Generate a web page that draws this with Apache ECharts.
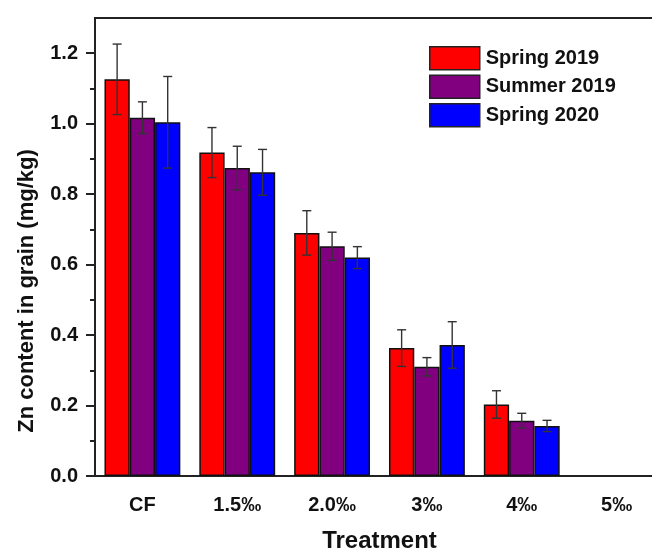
<!DOCTYPE html>
<html>
<head>
<meta charset="utf-8">
<script src="https://cdn.jsdelivr.net/npm/echarts@6/dist/echarts.min.js"></script>
<style>
  html, body { margin: 0; padding: 0; background: #fff; }
  #chart { width: 652px; height: 552px; }
</style>
</head>
<body>
<div id="chart"></div>
<script>
// 数据
var categories = ['CF', '1.5‰', '2.0‰', '3‰', '4‰', '5‰'];
var seriesNames = ['Spring 2019', 'Summer 2019', 'Spring 2020'];
var spring2019 = [1.126, 0.918, 0.690, 0.363, 0.203, null];
var summer2019 = [1.017, 0.874, 0.652, 0.310, 0.157, null];
var spring2020 = [1.004, 0.862, 0.620, 0.372, 0.142, null];
var spring2019Err = [0.100, 0.071, 0.063, 0.052, 0.039, null];
var summer2019Err = [0.045, 0.062, 0.040, 0.026, 0.021, null];
var spring2020Err = [0.130, 0.065, 0.031, 0.066, 0.016, null];
var yTicks = [0, 0.2, 0.4, 0.6, 0.8, 1.0, 1.2];
var yMinorTicks = [0.1, 0.3, 0.5, 0.7, 0.9, 1.1];

var colors = ['#ff0000', '#800080', '#0000ff'];
var font = 'Liberation Sans, Arial, sans-serif';
var allValues = [spring2019, summer2019, spring2020];
var allErrs = [spring2019Err, summer2019Err, spring2020Err];

var chart = echarts.init(document.getElementById('chart'));

// 误差线
function errData(i) {
  var out = [];
  allValues[i].forEach(function (v, k) {
    if (v != null) out.push([k, v, allErrs[i][k]]);
  });
  return out;
}
function errRender(i) {
  return function (params, api) {
    var catW = api.size([1, 0])[0];
    var barW = catW * 0.8 / 3;
    var off = (i - 1) * barW;
    var v = api.value(1), e = api.value(2);
    var top = api.coord([api.value(0), v + e]);
    var bot = api.coord([api.value(0), v - e]);
    var x = top[0] + off;
    var cap = 4.5;
    var style = { stroke: '#333', lineWidth: 1.4 };
    return {
      type: 'group',
      children: [
        { type: 'line', shape: { x1: x, y1: top[1], x2: x, y2: bot[1] }, style: style },
        { type: 'line', shape: { x1: x - cap, y1: top[1], x2: x + cap, y2: top[1] }, style: style },
        { type: 'line', shape: { x1: x - cap, y1: bot[1], x2: x + cap, y2: bot[1] }, style: style }
      ]
    };
  };
}

var series = [];
seriesNames.forEach(function (name, i) {
  series.push({
    name: name,
    type: 'bar',
    data: allValues[i],
    barGap: '0%',
    barCategoryGap: '20%',
    itemStyle: { color: colors[i], borderColor: '#111', borderWidth: 1.5 },
    z: 2
  });
});
seriesNames.forEach(function (name, i) {
  series.push({
    type: 'custom',
    renderItem: errRender(i),
    data: errData(i),
    z: 5,
    silent: true
  });
});

chart.setOption({
  backgroundColor: '#fff',
  animation: false,
  textStyle: { fontFamily: font },
  grid: {
    left: 95, width: 569, top: 18, bottom: 76,
    containLabel: false, outerBoundsMode: 'none',
    show: true, borderColor: '#222', borderWidth: 2
  },
  legend: {
    data: seriesNames,
    orient: 'vertical',
    left: 424, top: 41,
    itemWidth: 50, itemHeight: 23, itemGap: 4,
    icon: 'rect',
    itemStyle: { borderColor: '#222', borderWidth: 1.5 },
    textStyle: { fontFamily: font, fontWeight: 'bold', fontSize: 20, color: '#111', padding: [0, 0, 0, 1] }
  },
  xAxis: [{
    type: 'category',
    data: categories,
    name: 'Treatment',
    nameLocation: 'middle',
    nameGap: 53,
    nameTextStyle: { fontFamily: font, fontWeight: 'bold', fontSize: 24, color: '#111' },
    axisLine: { lineStyle: { color: '#222', width: 2 } },
    axisTick: { alignWithLabel: true, length: 8, lineStyle: { color: '#222', width: 2 } },
    axisLabel: { margin: 19, fontFamily: font, fontWeight: 'bold', fontSize: 20, color: '#111' }
  }, {
    type: 'category',
    data: categories,
    position: 'bottom',
    axisLine: { show: false },
    axisTick: { length: 5, lineStyle: { color: '#222', width: 2 } },
    axisLabel: { show: false }
  }],
  yAxis: [{
    type: 'value',
    min: 0, max: 1.3,
    name: 'Zn content in grain (mg/kg)',
    nameLocation: 'middle',
    nameGap: 57,
    nameTextStyle: { fontFamily: font, fontWeight: 'bold', fontSize: 22, color: '#111', padding: [0, 88, 0, 0] },
    splitLine: { show: false },
    axisLine: { show: true, lineStyle: { color: '#222', width: 2 } },
    axisTick: { show: true, length: 9, customValues: yTicks, lineStyle: { color: '#222', width: 2 } },
    axisLabel: {
      margin: 17, customValues: yTicks,
      fontFamily: font, fontWeight: 'bold', fontSize: 20, color: '#111',
      formatter: function (v) { return v.toFixed(1); }
    }
  }, {
    type: 'value',
    min: 0, max: 1.3,
    position: 'left',
    splitLine: { show: false },
    axisLine: { show: false },
    axisTick: { show: true, length: 5, customValues: yMinorTicks, lineStyle: { color: '#222', width: 2 } },
    axisLabel: { show: false }
  }],
  series: series
});
</script>
</body>
</html>
